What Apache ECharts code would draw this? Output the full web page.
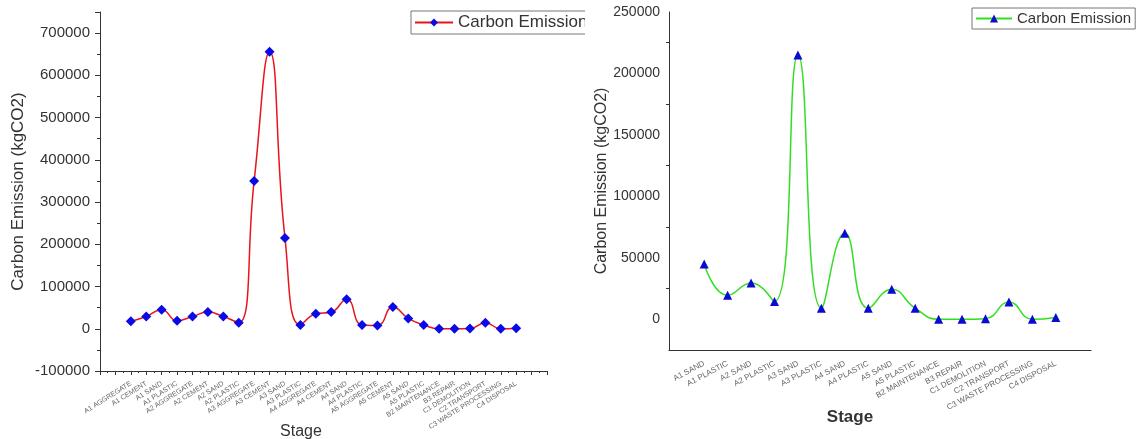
<!DOCTYPE html>
<html>
<head>
<meta charset="utf-8">
<script src="https://cdn.jsdelivr.net/npm/echarts@6/dist/echarts.min.js"></script>
<style>
  html, body { margin: 0; padding: 0; background: #fff; }
  #chart1 { position: absolute; left: 0; top: 0; width: 585px; height: 439px; }
  #chart2 { position: absolute; left: 585px; top: 0; width: 556px; height: 439px; }
</style>
</head>
<body>
<div id="chart1"></div>
<div id="chart2"></div>
<script>
// left chart: all stages
const leftStages = [
  "A1 AGGREGATE", "A1 CEMENT", "A1 SAND", "A1 PLASTIC",
  "A2 AGGREGATE", "A2 CEMENT", "A2 SAND", "A2 PLASTIC",
  "A3 AGGREGATE", "A3 CEMENT", "A3 SAND", "A3 PLASTIC",
  "A4 AGGREGATE", "A4 CEMENT", "A4 SAND", "A4 PLASTIC",
  "A5 AGGREGATE", "A5 CEMENT", "A5 SAND", "A5 PLASTIC",
  "B2 MAINTENANCE", "B3 REPAIR", "C1 DEMOLITION", "C2 TRANSPORT",
  "C3 WASTE PROCESSING", "C4 DISPOSAL"
];
const leftValues = [
  17500, 29000, 45000, 19000,
  29000, 39500, 29000, 14500,
  350000, 656000, 215000, 9000,
  35500, 39500, 70000, 9000,
  8000, 51500, 24500, 9000,
  0, 0, 500, 14000,
  0, 1500
];

// right chart: sand / plastic stages
const rightStages = [
  "A1 SAND", "A1 PLASTIC", "A2 SAND", "A2 PLASTIC",
  "A3 SAND", "A3 PLASTIC", "A4 SAND", "A4 PLASTIC",
  "A5 SAND", "A5 PLASTIC", "B2 MAINTENANCE", "B3 REPAIR",
  "C1 DEMOLITION", "C2 TRANSPORT", "C3 WASTE PROCESSING", "C4 DISPOSAL"
];
const rightValues = [
  45000, 19500, 29500, 14500,
  215000, 9000, 70000, 9000,
  24500, 9000, 0, 0,
  500, 14000, 0, 1500
];

const FONT = "Liberation Sans, Arial, sans-serif";
const AXIS_COLOR = "#333";
const LABEL_COLOR = "#666";

function renderLeftChart() {
  const chart = echarts.init(document.getElementById("chart1"));
  const data = leftValues.map((v, i) => [i + 1, v]);

  chart.setOption({
    animation: false,
    textStyle: { fontFamily: FONT },
    grid: { left: 100, right: 38, top: 12, bottom: 68, outerBoundsMode: "none" },
    legend: {
      left: 411, top: 11,
      itemWidth: 38, itemHeight: 10,
      padding: [3, 4, 3, 3],
      borderColor: "#777", borderWidth: 1,
      textStyle: { fontSize: 17, color: "#333", fontFamily: FONT },
      data: ["Carbon Emission"],
    },
    xAxis: {
      type: "value",
      min: -1, max: 28, interval: 1,
      name: "Stage",
      nameLocation: "middle",
      nameGap: 53,
      nameMoveOverlap: false,
      nameTextStyle: { fontSize: 16, color: "#333", padding: [0, 45, 0, 0] },
      axisLine: { onZero: false, lineStyle: { color: AXIS_COLOR } },
      axisTick: { length: 4, lineStyle: { color: AXIS_COLOR } },
      minorTick: { show: true, splitNumber: 2, length: 2, lineStyle: { color: AXIS_COLOR } },
      splitLine: { show: false },
      axisLabel: {
        rotate: 32, margin: 12, fontSize: 7, color: LABEL_COLOR,
        formatter: (v) => leftStages[v - 1] || "",
      },
    },
    yAxis: {
      type: "value",
      min: -100000, max: 750000, interval: 100000,
      name: "Carbon Emission (kgCO2)",
      nameLocation: "middle",
      nameGap: 73,
      nameMoveOverlap: false,
      nameTextStyle: { fontSize: 17, color: "#333" },
      axisLine: { show: true, onZero: false, lineStyle: { color: AXIS_COLOR } },
      axisTick: { length: 5, lineStyle: { color: AXIS_COLOR } },
      minorTick: { show: true, splitNumber: 2, length: 3, lineStyle: { color: AXIS_COLOR } },
      splitLine: { show: false },
      axisLabel: {
        fontSize: 15, color: "#333", margin: 10, showMaxLabel: false,
        formatter: (v) => String(v),
      },
    },
    series: [
      {
        name: "Carbon Emission",
        type: "line",
        smooth: 0.5,
        data,
        symbol: "diamond",
        symbolSize: 10,
        itemStyle: { color: "#0a0ae6" },
        lineStyle: { color: "#e8141c", width: 1.5 },
      },
    ],
  });
}

function renderRightChart() {
  const chart = echarts.init(document.getElementById("chart2"));
  const cats = ["", ...rightStages, ""];
  const data = ["-", ...rightValues, "-"];

  chart.setOption({
    animation: false,
    textStyle: { fontFamily: FONT },
    grid: { left: 84, right: 50, top: 12, bottom: 89, outerBoundsMode: "none" },
    legend: {
      left: 387, top: 8,
      itemWidth: 36, itemHeight: 10,
      padding: [3, 4, 3, 3],
      borderColor: "#777", borderWidth: 1,
      textStyle: { fontSize: 15, color: "#333", fontFamily: FONT },
      data: ["Carbon Emission"],
    },
    xAxis: [
      {
        type: "category",
        data: cats,
        boundaryGap: true,
        name: "Stage",
        nameLocation: "middle",
        nameGap: 59,
        nameMoveOverlap: false,
        nameTextStyle: { fontSize: 17, fontWeight: "bold", color: "#333", padding: [0, 60, 0, 0] },
        axisLine: { onZero: false, lineStyle: { color: AXIS_COLOR } },
        axisTick: { alignWithLabel: true, interval: 0, length: 5, lineStyle: { color: AXIS_COLOR } },
        axisLabel: {
          interval: 0, rotate: 28, margin: 13, fontSize: 8, color: LABEL_COLOR,
        },
      },
      {
        // minor ticks between the stages
        type: "category",
        data: cats,
        boundaryGap: true,
        position: "bottom",
        axisLine: { show: false, onZero: false },
        axisTick: { alignWithLabel: false, interval: 0, length: 3, lineStyle: { color: AXIS_COLOR } },
        axisLabel: { show: false },
      },
    ],
    yAxis: {
      type: "value",
      min: -25000, max: 250000,
      minInterval: 50000, maxInterval: 50000,
      name: "Carbon Emission (kgCO2)",
      nameLocation: "middle",
      nameGap: 59,
      nameMoveOverlap: false,
      nameTextStyle: { fontSize: 16, color: "#333" },
      axisLine: { show: true, onZero: false, lineStyle: { color: AXIS_COLOR } },
      axisTick: { length: 5, lineStyle: { color: AXIS_COLOR } },
      minorTick: { show: true, splitNumber: 2, length: 3, lineStyle: { color: AXIS_COLOR } },
      splitLine: { show: false },
      axisLabel: {
        fontSize: 14, color: "#333", margin: 9, showMinLabel: false,
        formatter: (v) => String(v),
      },
    },
    series: [
      {
        name: "Carbon Emission",
        type: "line",
        smooth: 0.5,
        data,
        symbol: "triangle",
        symbolSize: 9,
        itemStyle: { color: "#0a0ad2" },
        lineStyle: { color: "#33dd22", width: 1.5 },
      },
    ],
  });
}

renderLeftChart();
renderRightChart();
</script>
</body>
</html>
